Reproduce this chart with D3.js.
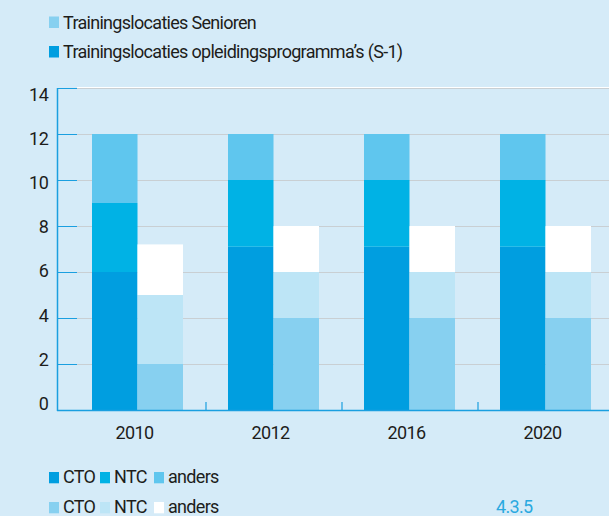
<!DOCTYPE html>
<html>
    <head>
        <meta charset="utf-8">
        <script src="https://d3js.org/d3.v7.min.js"></script>
        <title>Trainingslocaties</title>
        <style>
            body {margin: 0; background-color: #d5ebf8;}
            svg {display: block; font-family: Roboto, sans-serif;}
            text {font-size: 18px; letter-spacing: -0.7px; fill: #1d1d1b;}
        </style>
    </head>
    <body>
        <script>
            const years = ['2010', '2012', '2016', '2020']
            const groups = ['S-1', 'Senioren']
            const parts = ['CTO', 'NTC', 'anders']
            // opleidingsprogramma's (S-1): CTO, NTC, anders
            const s1CTO = [6, 7.1, 7.1, 7.1]
            const s1NTC = [3, 2.9, 2.9, 2.9]
            const s1Anders = [3, 2, 2, 2]
            // Senioren
            const senCTO = [2, 4, 4, 4]
            const senNTC = [3, 2, 2, 2]
            const senAnders = [2.2, 2, 2, 2]
            const yTicks = [0, 2, 4, 6, 8, 10, 12, 14]

            const colors = {
                'S-1': ['#009ee0', '#00b2e5', '#5fc6ee'],
                'Senioren': ['#87d0f0', '#bde5f6', '#ffffff']
            }
            const seriesData = {
                'S-1': [s1CTO, s1NTC, s1Anders],
                'Senioren': [senCTO, senNTC, senAnders]
            }

            const width = 609
            const height = 516
            const svg = d3.select('body')
                .append('svg')
                    .attr('width', width)
                    .attr('height', height)

            const x = d3.scaleBand().domain(years).range([69.5, 613.5])
            const xIn = d3.scaleBand().domain(groups).range([22.5, 113.5])
            const y = d3.scaleLinear().domain([0, 14]).range([410, 88])
            // the tick labels in the original are spaced a bit tighter than the grid
            const yLab = d3.scaleLinear().domain([0, 14]).range([403.6, 94])

            // gridlines
            svg.selectAll('.grid')
                .data(yTicks.filter(d => d > 0))
                .enter()
                .append('line')
                    .attr('x1', 77).attr('x2', width)
                    .attr('y1', d => y(d) + 0.5).attr('y2', d => y(d) + 0.5)
                    .attr('stroke', '#c9cfd3')
            svg.append('line')
                .attr('x1', 77).attr('x2', width)
                .attr('y1', y(14) - 0.5).attr('y2', y(14) - 0.5)
                .attr('stroke', '#ffffff')

            // stacked bars
            years.forEach((yr, i) => {
                groups.forEach(g => {
                    let base = 0
                    seriesData[g].forEach((arr, k) => {
                        const v = arr[i]
                        svg.append('rect')
                            .attr('x', x(yr) + xIn(g))
                            .attr('width', xIn.bandwidth())
                            .attr('y', y(base + v))
                            .attr('height', y(base) - y(base + v))
                            .attr('fill', colors[g][k])
                        base += v
                    })
                })
            })

            // y axis
            const axisColor = '#1a9fe0'
            svg.append('line')
                .attr('x1', 57.5).attr('x2', 57.5)
                .attr('y1', y(14)).attr('y2', y(0) + 1)
                .attr('stroke', axisColor).attr('stroke-width', 1.5)
            svg.selectAll('.ytick')
                .data(yTicks.filter(d => d > 0))
                .enter()
                .append('line')
                    .attr('x1', 57).attr('x2', 77)
                    .attr('y1', d => y(d) + 0.5).attr('y2', d => y(d) + 0.5)
                    .attr('stroke', axisColor)
            svg.selectAll('.ylab')
                .data(yTicks)
                .enter()
                .append('text')
                    .attr('x', 48.5)
                    .attr('y', d => yLab(d) + 6.5)
                    .attr('text-anchor', 'end')
                    .style('letter-spacing', '-0.4px')
                    .text(d => d)

            // x axis
            svg.append('line')
                .attr('x1', 57).attr('x2', width)
                .attr('y1', y(0) + 0.5).attr('y2', y(0) + 0.5)
                .attr('stroke', axisColor).attr('stroke-width', 1.5)
            svg.selectAll('.xtick')
                .data(years.slice(1))
                .enter()
                .append('line')
                    .attr('x1', d => x(d) + 0.5).attr('x2', d => x(d) + 0.5)
                    .attr('y1', y(0) - 8).attr('y2', y(0))
                    .attr('stroke', axisColor).attr('stroke-width', 1.2)
            svg.selectAll('.xlab')
                .data(years)
                .enter()
                .append('text')
                    .attr('x', d => x(d) + x.bandwidth() / 2 - 3)
                    .attr('y', 439)
                    .attr('text-anchor', 'middle')
                    .style('letter-spacing', '-0.6px')
                    .text(d => d)

            // top legend
            const topLegend = [
                {label: 'Trainingslocaties Senioren', color: colors['Senioren'][0]},
                {label: 'Trainingslocaties opleidingsprogramma\u2019s (S-1)', color: colors['S-1'][0]}
            ]
            topLegend.forEach((d, i) => {
                svg.append('rect')
                    .attr('x', 49).attr('y', 16.5 + i * 29.5)
                    .attr('width', 10).attr('height', 11.5)
                    .attr('fill', d.color)
                svg.append('text')
                    .attr('x', 63).attr('y', 29 + i * 29)
                    .text(d.label)
            })

            // bottom legend
            const legendX = [49, 100, 154]
            groups.forEach((g, r) => {
                parts.forEach((p, k) => {
                    svg.append('rect')
                        .attr('x', legendX[k]).attr('y', 472 + r * 30)
                        .attr('width', 10).attr('height', 11.3)
                        .attr('fill', colors[g][k])
                    svg.append('text')
                        .attr('x', legendX[k] + 14).attr('y', 483.3 + r * 30)
                        .text(p)
                })
            })

            svg.append('text')
                .attr('x', 496).attr('y', 513.3)
                .style('fill', '#29a9e0')
                .text('4.3.5')
        </script>
    </body>
</html>
